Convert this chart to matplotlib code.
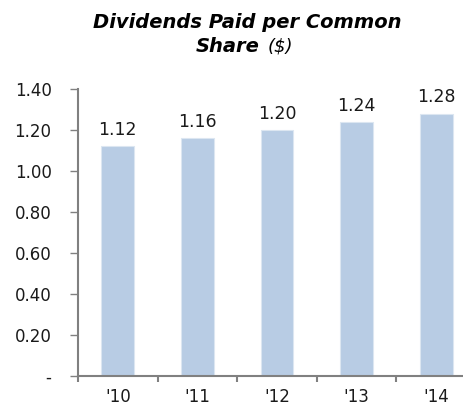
import matplotlib.pyplot as plt

years = ["'10", "'11", "'12", "'13", "'14"]
dividends = [1.12, 1.16, 1.20, 1.24, 1.28]
y_ticks = [0, 0.2, 0.4, 0.6, 0.8, 1.0, 1.2, 1.4]
y_labels = ['-', '0.20', '0.40', '0.60', '0.80', '1.00', '1.20', '1.40']

fig = plt.figure(figsize=(4.64, 4.09), dpi=100)
W, H = 464, 409
# axes runs past the right edge of the picture, as in the original
ax = fig.add_axes([78 / W, 1 - 376 / H, 398 / W, 287 / H])

x = range(len(years))
ax.bar(x, dividends, width=0.41, color='#b8cce4', edgecolor='#dce6f1', linewidth=0.8)
for i, v in enumerate(dividends):
    ax.text(i, v + 0.035, f'{v:.2f}', ha='center', va='bottom', fontsize=12.5, color='#1a1a1a')

ax.set_xlim(-0.5, len(years) - 0.5)
ax.set_ylim(0, 1.4)
ax.set_yticks(y_ticks)
ax.set_yticklabels(y_labels, fontsize=12, color='#1a1a1a')
ax.set_xticks([i - 0.5 for i in x])
ax.set_xticklabels([])
ax.set_xticks(list(x), minor=True)
ax.set_xticklabels(years, minor=True, fontsize=12, color='#1a1a1a')
ax.tick_params(axis='x', which='minor', length=0, pad=9)
ax.tick_params(axis='x', which='major', length=4, color='#808080', width=1.5, direction='out')
ax.tick_params(axis='y', length=6, color='#808080', width=1, pad=13)

for s in ['top', 'right']:
    ax.spines[s].set_visible(False)
for s in ['left', 'bottom']:
    ax.spines[s].set_color('#808080')
    ax.spines[s].set_linewidth(1.5)

fig.text(247 / W, 1 - 22 / H, 'Dividends Paid per Common', ha='center', va='center',
         fontsize=14, fontweight='bold', style='italic')
fig.text(228 / W, 1 - 46 / H, 'Share', ha='center', va='center',
         fontsize=14, fontweight='bold', style='italic')
fig.text(268 / W, 1 - 46 / H, '($)', ha='left', va='center',
         fontsize=13, style='italic')

fig.savefig('out.png', dpi=100)
